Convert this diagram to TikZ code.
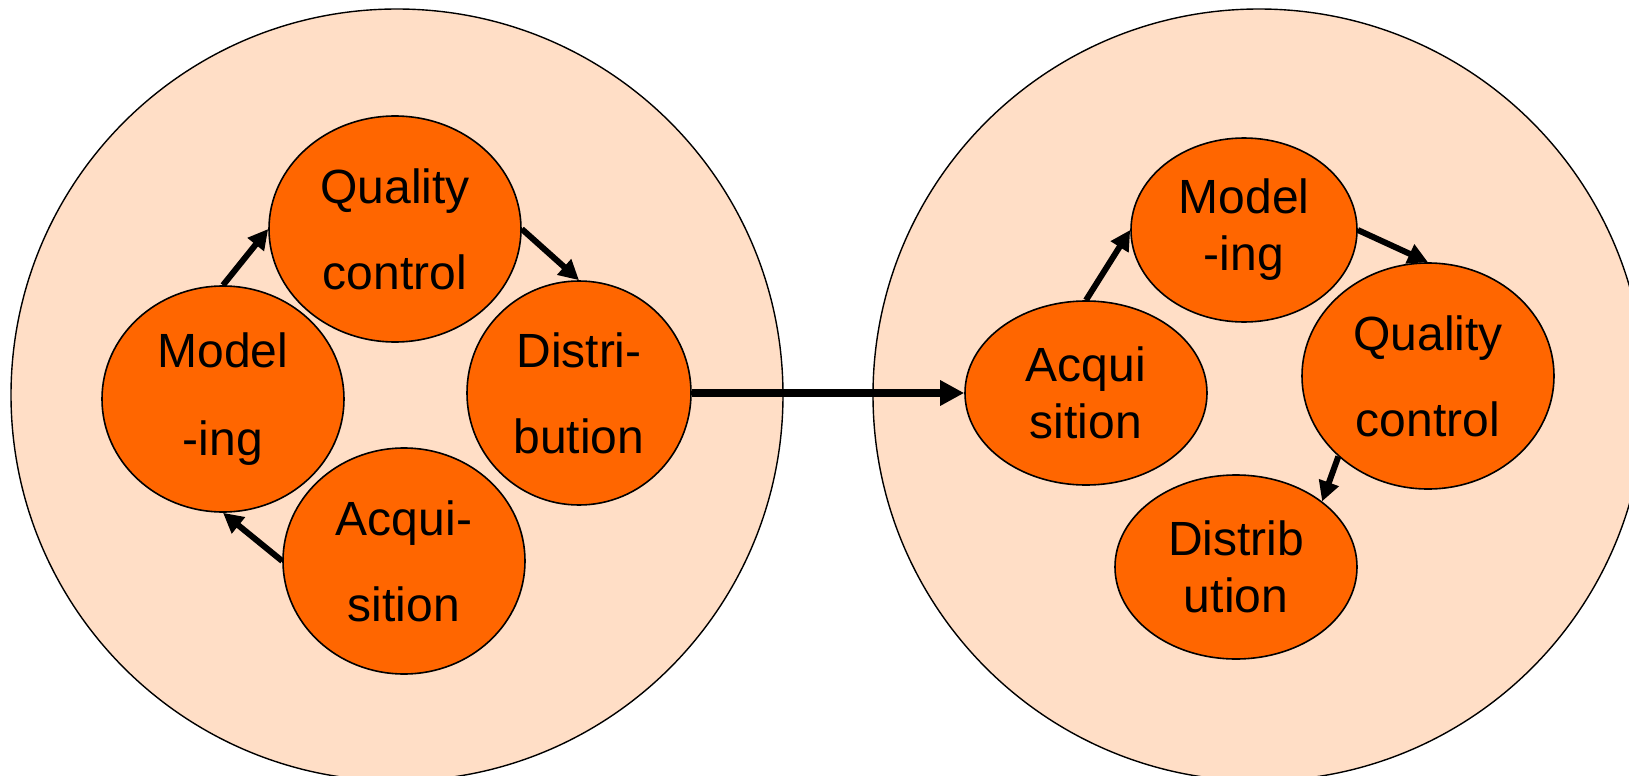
\documentclass[tikz,border=0pt]{standalone}
\usepackage{fontspec}
\setmainfont{Liberation Sans}
\usetikzlibrary{shapes.geometric,arrows.meta}
\definecolor{peach}{RGB}{255,222,198}
\definecolor{pumpkin}{RGB}{255,102,0}
\tikzset{
  stage/.style={ellipse, draw=black, line width=0.8pt, fill=pumpkin, inner sep=0pt, align=center},
  tall/.style={stage, font=\fontsize{24}{43}\selectfont},
  flat/.style={stage, font=\fontsize{24}{28.5}\selectfont},
  flow/.style={-{Triangle[length=10pt,width=10pt]}, line width=3pt},
}

\begin{document}
\begin{tikzpicture}[x=0.5pt,y=-0.5pt]
	\useasboundingbox (0,0) rectangle (1629,776);
	\clip (0,0) rectangle (1629,776);
	
	% the two pools
	\draw[fill=peach, line width=0.7pt] (397,395) circle (386);
	\draw[fill=peach, line width=0.7pt] (1259,395) circle (386);
	
	% left cycle
	\node[tall, minimum width=126pt, minimum height=113pt] (qcA) at (395,229) {Quality\\control};
	\node[tall, minimum width=121pt, minimum height=113pt, font=\fontsize{24}{44}\selectfont] (modA) at (223,399) {\raisebox{-4pt}{Model}\\\raisebox{-4pt}{-ing}};
	\node[tall, minimum width=112pt, minimum height=112pt] (distA) at (579,393) {Distri-\\bution};
	\node[tall, minimum width=121pt, minimum height=113pt] (acqA) at (404,561) {Acqui-\\sition};
	
	% right cycle
	\node[flat, minimum width=113pt, minimum height=92pt] (modB) at (1244,230) {Model\\-ing};
	\node[tall, minimum width=126pt, minimum height=113pt] (qcB) at (1428,376) {Quality\\control};
	\node[flat, minimum width=121pt, minimum height=92pt] (acqB) at (1086,393) {Acqui\\sition};
	\node[flat, minimum width=121pt, minimum height=92pt] (distB) at (1236,567) {Distrib\\ution};
	
	% arrows
	\draw[flow] (modA.north) -- (qcA.west);
	\draw[flow] (qcA.east) -- (distA.north);
	\draw[flow] (acqA.west) -- (modA.south);
	\draw[flow] (acqB.north) -- (modB.west);
	\draw[flow] (modB.east) -- (qcB.north);
	\draw[flow] (qcB.south west) -- (distB.north east);
	
	% left pool feeds right pool
	\draw[line width=3.6pt, -{Triangle[length=12pt,width=12pt]}] (distA.east) -- (acqB.west);
\end{tikzpicture}
\end{document}
